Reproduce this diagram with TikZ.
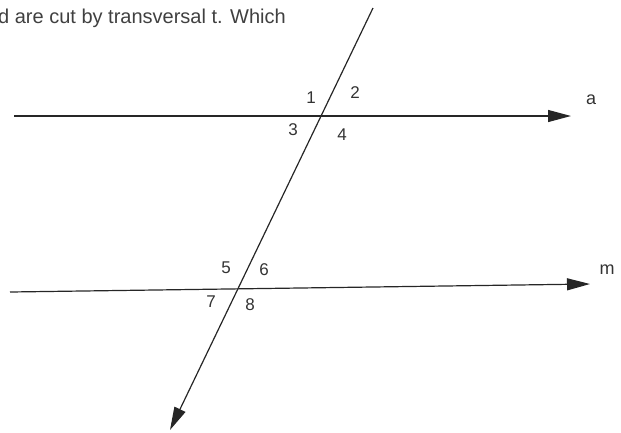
\documentclass[tikz,border=0pt]{standalone}
\usepackage{fontspec}
\setmainfont{Liberation Sans}
\usetikzlibrary{arrows.meta}
\begin{document}
\begin{tikzpicture}[x=1pt,y=-1pt,
  ln/.style={line width=1.2pt,draw=black!85,-{Triangle[length=23pt,width=12pt]}},
  num/.style={font=\fontsize{17}{17}\selectfont,text=black!80,inner sep=0pt},
  lbl/.style={font=\fontsize{18}{18}\selectfont,text=black!80,inner sep=0pt}]
\useasboundingbox (0,0) rectangle (621,432);
\node[anchor=base west,inner sep=0pt,font=\fontsize{20}{20}\selectfont,text=black!75] (q) at (-2,23) {d are cut by transversal t. Which};
% line a
\coordinate (a0) at (14,116);
\coordinate (a1) at (571,116);
\draw[ln] (a0) -- (a1);
\node[lbl] (la) at (591,100) {a};
% line m
\coordinate (m0) at (10,292);
\coordinate (m1) at (590,284);
\draw[ln] (m0) -- (m1);
\node[lbl] (lm) at (607,270) {m};
% transversal
\coordinate (t0) at (373,8);
\coordinate (t1) at (170,430);
\draw[ln] (t0) -- (t1);
% angle numbers
\node[num] (n1) at (311,98) {1};
\node[num] (n2) at (355,93) {2};
\node[num] (n3) at (293,130) {3};
\node[num] (n4) at (342,135) {4};
\node[num] (n5) at (226,268) {5};
\node[num] (n6) at (264,270) {6};
\node[num] (n7) at (211,302) {7};
\node[num] (n8) at (250,305) {8};
\end{tikzpicture}
\end{document}
